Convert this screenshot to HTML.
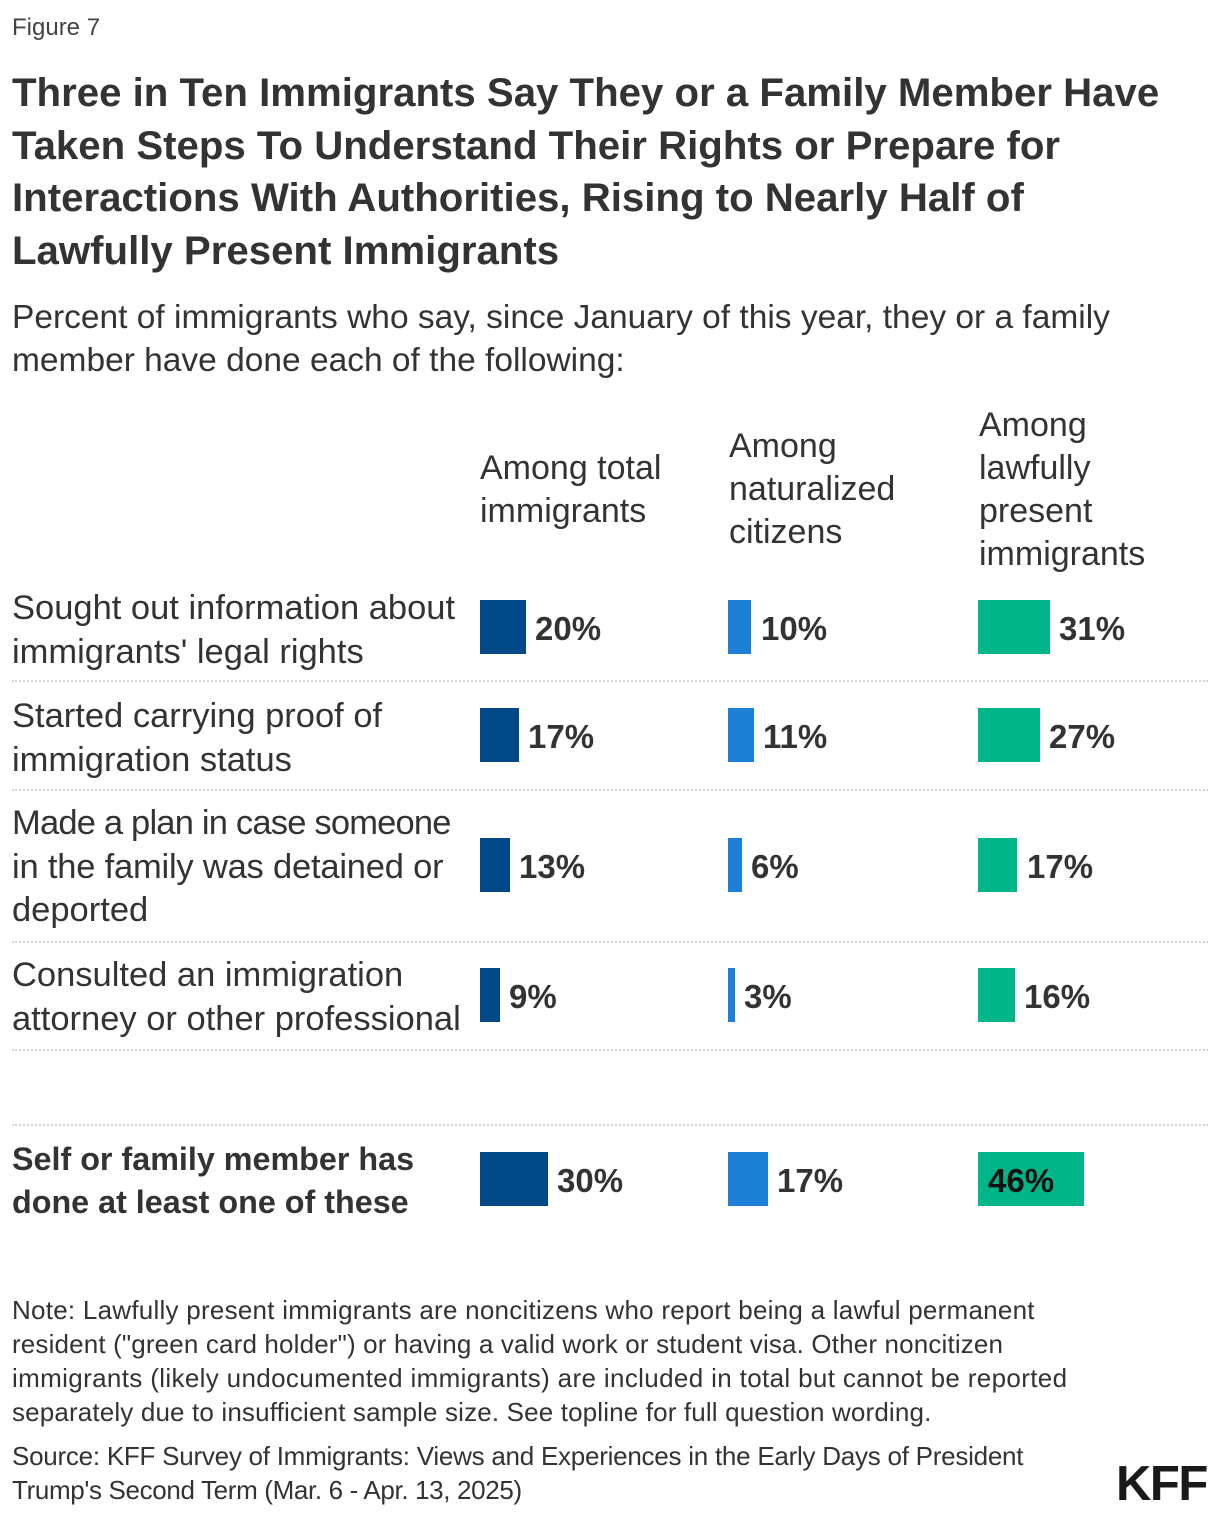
<!DOCTYPE html>
<html><head><meta charset="utf-8">
<style>
html,body{margin:0;padding:0;background:#fff;}
body{width:1220px;height:1518px;position:relative;overflow:hidden;font-family:"Liberation Sans",Arial,sans-serif;color:#333;}
.t{position:absolute;white-space:nowrap;}
.fig{left:12px;top:13px;font-size:24px;line-height:30px;color:#444;}
.title{left:12px;top:67px;font-size:40.2px;line-height:52.5px;font-weight:bold;color:#333;}
.sub{left:12px;top:296px;font-size:33.5px;line-height:43px;color:#333;}
.hdr{font-size:34px;line-height:43px;color:#333;}
.lbl{left:12px;font-size:34.5px;line-height:43.5px;color:#333;}
.lblb{left:12px;font-size:32.3px;line-height:43px;font-weight:bold;color:#333;}
.bar{position:absolute;height:54px;}
.c1{background:#004986;}
.c2{background:#1c81d6;}
.c3{background:#00b588;}
.val{position:absolute;font-size:33px;line-height:54px;font-weight:bold;color:#333;white-space:nowrap;}
.sep{position:absolute;left:12px;width:1196px;height:0;border-top:2px dotted #d4d4d4;}
.note{left:12px;font-size:26px;line-height:34px;color:#333;}
.kff{position:absolute;left:1116px;top:1454px;font-size:49px;line-height:60px;font-weight:bold;color:#1a1a1a;letter-spacing:-1.5px;}
</style></head><body>

<div class="t fig">Figure 7</div>

<div class="t title">Three in Ten Immigrants Say They or a Family Member Have<br>Taken Steps To Understand Their Rights or Prepare for<br>Interactions With Authorities, Rising to Nearly Half of<br>Lawfully Present Immigrants</div>

<div class="t sub">Percent of immigrants who say, since January of this year, they or a family<br>member have done each of the following:</div>

<div class="t hdr" style="left:480px;top:447px;">Among total<br>immigrants</div>
<div class="t hdr" style="left:729px;top:425px;">Among<br>naturalized<br>citizens</div>
<div class="t hdr" style="left:979px;top:404px;">Among<br>lawfully<br>present<br>immigrants</div>

<!-- Row 1 -->
<div class="t lbl" style="top:587px;">Sought out information about<br>immigrants' legal rights</div>
<div class="bar c1" style="left:480px;top:600px;width:46px;"></div>
<div class="val" style="left:535px;top:602px;">20%</div>
<div class="bar c2" style="left:728px;top:600px;width:23px;"></div>
<div class="val" style="left:761px;top:602px;">10%</div>
<div class="bar c3" style="left:978px;top:600px;width:72px;"></div>
<div class="val" style="left:1059px;top:602px;">31%</div>
<div class="sep" style="top:680px;"></div>

<!-- Row 2 -->
<div class="t lbl" style="top:695px;">Started carrying proof of<br>immigration status</div>
<div class="bar c1" style="left:480px;top:708px;width:39px;"></div>
<div class="val" style="left:528px;top:710px;">17%</div>
<div class="bar c2" style="left:728px;top:708px;width:26px;"></div>
<div class="val" style="left:763px;top:710px;">11%</div>
<div class="bar c3" style="left:978px;top:708px;width:62px;"></div>
<div class="val" style="left:1049px;top:710px;">27%</div>
<div class="sep" style="top:789px;"></div>

<!-- Row 3 -->
<div class="t lbl" style="top:802px;"><span style="letter-spacing:-0.8px;">Made a plan in case someone</span><br><span style="letter-spacing:-0.2px;">in the family was detained or</span><br>deported</div>
<div class="bar c1" style="left:480px;top:838px;width:30px;"></div>
<div class="val" style="left:519px;top:840px;">13%</div>
<div class="bar c2" style="left:728px;top:838px;width:14px;"></div>
<div class="val" style="left:751px;top:840px;">6%</div>
<div class="bar c3" style="left:978px;top:838px;width:39px;"></div>
<div class="val" style="left:1027px;top:840px;">17%</div>
<div class="sep" style="top:941px;"></div>

<!-- Row 4 -->
<div class="t lbl" style="top:954px;">Consulted an immigration<br>attorney or other professional</div>
<div class="bar c1" style="left:480px;top:968px;width:20px;"></div>
<div class="val" style="left:509px;top:970px;">9%</div>
<div class="bar c2" style="left:728px;top:968px;width:7px;"></div>
<div class="val" style="left:744px;top:970px;">3%</div>
<div class="bar c3" style="left:978px;top:968px;width:37px;"></div>
<div class="val" style="left:1024px;top:970px;">16%</div>
<div class="sep" style="top:1049px;"></div>

<div class="sep" style="top:1124px;"></div>

<!-- Row 5 -->
<div class="t lblb" style="top:1138px;">Self or family member has<br>done at least one of these</div>
<div class="bar c1" style="left:480px;top:1152px;width:68px;"></div>
<div class="val" style="left:557px;top:1154px;">30%</div>
<div class="bar c2" style="left:728px;top:1152px;width:40px;"></div>
<div class="val" style="left:777px;top:1154px;">17%</div>
<div class="bar c3" style="left:978px;top:1152px;width:106px;"></div>
<div class="val" style="left:988px;top:1154px;color:#111;">46%</div>

<div class="t note" style="top:1293px;"><span style="letter-spacing:0.25px;">Note: Lawfully present immigrants are noncitizens who report being a lawful permanent</span><br><span style="letter-spacing:0.15px;">resident ("green card holder") or having a valid work or student visa. Other noncitizen</span><br><span style="letter-spacing:0.35px;">immigrants (likely undocumented immigrants) are included in total but cannot be reported</span><br><span style="letter-spacing:0.15px;">separately due to insufficient sample size. See topline for full question wording.</span></div>

<div class="t note" style="top:1439px;"><span style="letter-spacing:-0.25px;">Source: KFF Survey of Immigrants: Views and Experiences in the Early Days of President</span><br><span style="letter-spacing:-0.35px;">Trump's Second Term (Mar. 6 - Apr. 13, 2025)</span></div>

<div class="kff">KFF</div>

</body></html>
